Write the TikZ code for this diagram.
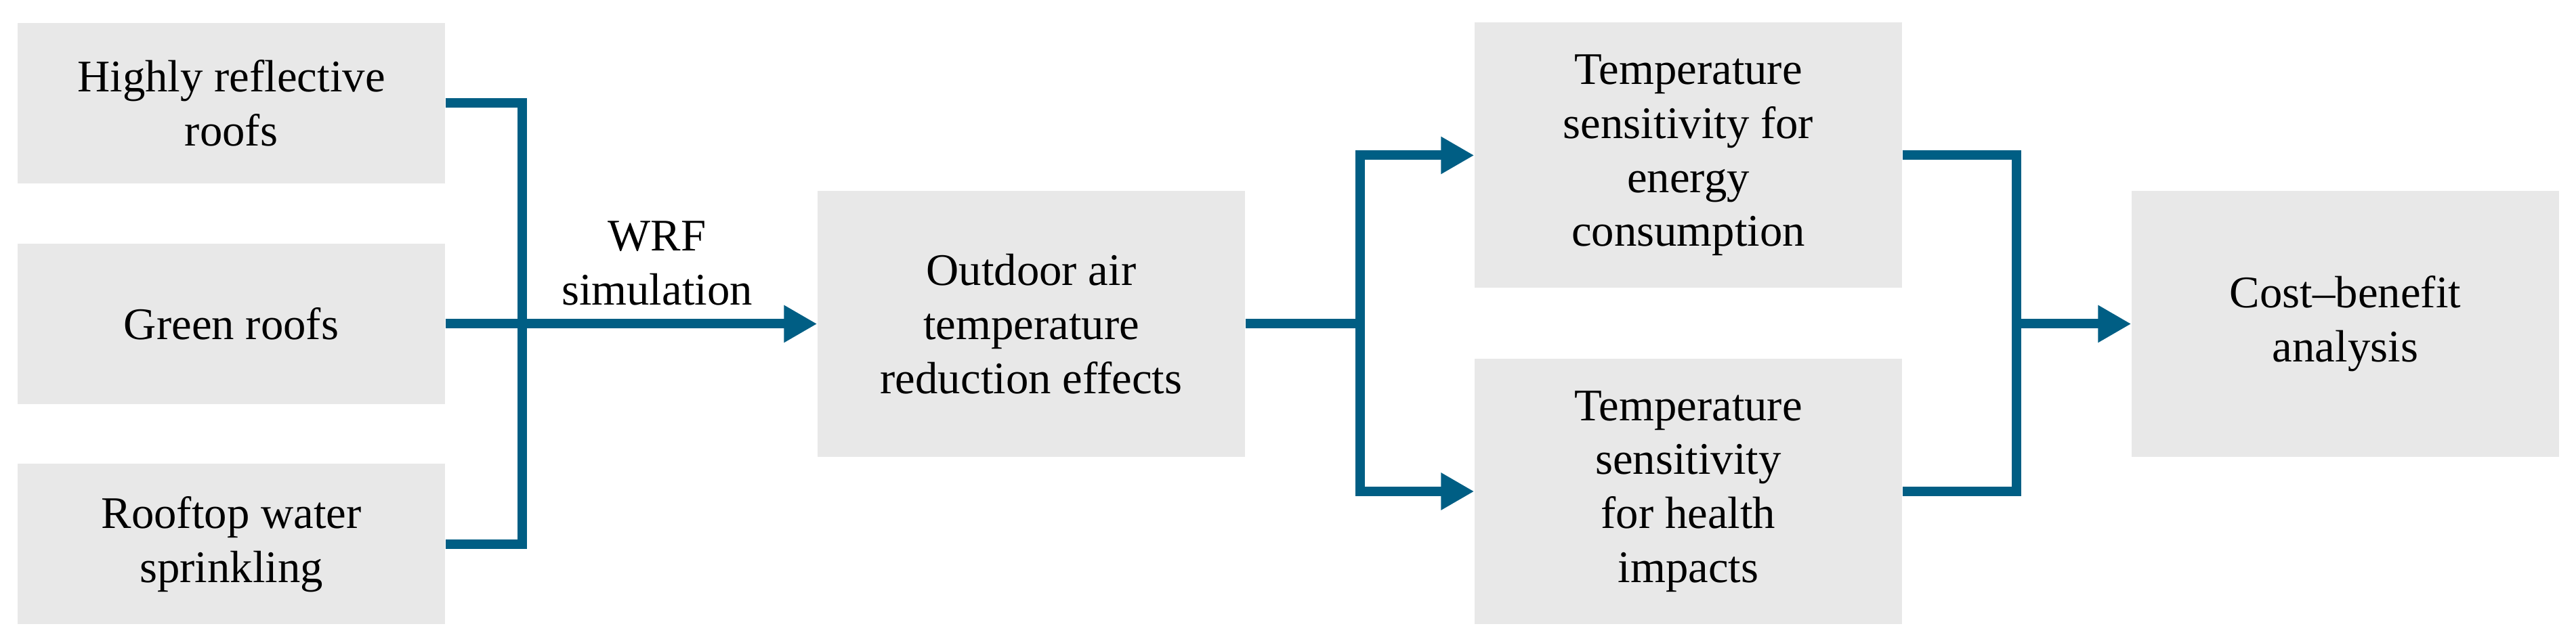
\documentclass[tikz,border=0pt]{standalone}
\usepackage{fontspec}
\setmainfont{Liberation Serif}
\usetikzlibrary{arrows.meta}
\definecolor{flowblue}{RGB}{0,94,132}
\definecolor{boxgray}{RGB}{232,232,232}
\begin{document}
\begin{tikzpicture}
            [Box/.style={fill=boxgray,draw=none,minimum width=6.31cm,align=center,inner sep=0pt,
                font=\fontsize{19}{22.7}\selectfont},
             Flow/.style={draw=flowblue,line width=0.14cm,line join=miter},
             Arr/.style={Flow,-{Triangle[length=0.49cm,width=0.52cm]}}]
            \useasboundingbox (0,0) rectangle (38.03,9.47);

            \node[Box,minimum height=2.37cm] (refl) at (3.415,7.945) {Highly reflective\\roofs};
            \node[Box,minimum height=2.37cm] (green) at (3.415,4.685) {Green roofs};
            \node[Box,minimum height=2.37cm] (sprink) at (3.415,1.43) {Rooftop water\\sprinkling};

            \node[Box,minimum height=3.93cm] (outdoor) at (15.225,4.685) {Outdoor air\\temperature\\reduction effects};

            \node[Box,minimum height=3.92cm] (energy) at (24.925,7.175) {Temperature\\sensitivity for\\energy\\consumption};
            \node[Box,minimum height=3.92cm] (health) at (24.925,2.21) {Temperature\\sensitivity\\for health\\impacts};

            \node[Box,minimum height=3.93cm] (cost) at (34.625,4.685) {Cost–benefit\\analysis};

            \coordinate (j1) at (7.71,4.685);
            \coordinate (j2) at (20.08,4.685);
            \coordinate (j3) at (29.77,4.685);

            \draw[Flow] (refl.east) -| (j1) |- (sprink.east);
            \draw[Flow] (green.east) -- (j1);
            \draw[Arr] (j1) -- (outdoor.west);
            \node[font=\fontsize{19}{22.7}\selectfont,align=center] (wrf) at (9.70,5.58) {WRF\\simulation};

            \draw[Flow] (outdoor.east) -- (j2);
            \draw[Arr] (j2) |- (energy.west);
            \draw[Arr] (j2) |- (health.west);

            \draw[Flow] (energy.east) -| (j3) |- (health.east);
            \draw[Arr] (j3) -- (cost.west);
        \end{tikzpicture}
\end{document}
